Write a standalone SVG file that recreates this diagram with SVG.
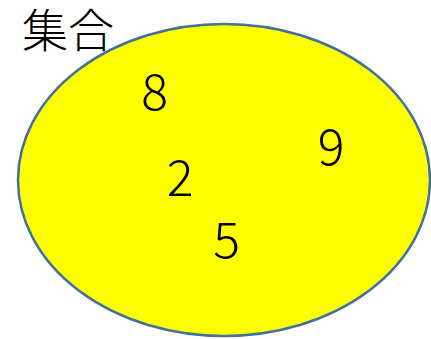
<svg xmlns="http://www.w3.org/2000/svg" width="431" height="339" viewBox="0 0 431 339">
<style>
.t{font-family:"Noto Sans CJK JP","Noto Sans",sans-serif;fill:#000;font-weight:300}
.n{font-size:50px;text-anchor:middle}
</style>
<rect width="431" height="339" fill="#fff"/>
<g id="set">
<ellipse cx="224" cy="180" rx="206" ry="156" fill="#ffff00" stroke="#41719c" stroke-width="2.5"/>
</g>
<g id="title"><text class="t" x="22" y="47" font-size="46">集合</text></g>
<g id="n8"><text class="t n" x="154.5" y="110">8</text></g>
<g id="n9"><text class="t n" x="331" y="165">9</text></g>
<g id="n2"><text class="t n" x="180" y="196">2</text></g>
<g id="n5"><text class="t n" x="226.5" y="258">5</text></g>
</svg>
